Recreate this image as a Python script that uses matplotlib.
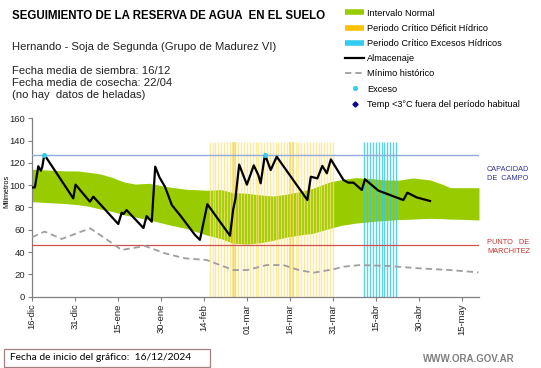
import numpy as np
import matplotlib
matplotlib.use("Agg")
import matplotlib.pyplot as plt
from matplotlib.lines import Line2D
from matplotlib.patches import Rectangle

plt.rcParams['font.family'] = ['Liberation Sans', 'DejaVu Sans']

# ---- data (days since 16-dic) ----
band_days = [0, 6, 12, 16, 20, 24, 28, 32, 36, 41, 47, 54, 61, 66, 70, 75, 80, 84, 89,
             94, 98, 104, 108, 113, 118, 123, 128, 133, 139, 143, 146, 150, 156]
band_upper = [114.3, 113.5, 112.8, 112.8, 111.5, 110, 107, 103, 101, 101.7, 98.7, 96.3, 95.5, 96,
              93.5, 92.7, 91.2, 90.3, 92, 94.5, 97.2, 103, 105, 106.8, 106, 104.7, 104.5, 106.5,
              104.7, 101, 97.8, 97.8, 97.8]
band_lower = [85.2, 84.3, 83.5, 82.5, 81, 78.5, 76.5, 73.5, 71.5, 68.8, 65, 61, 55.3, 52, 48,
              47.2, 48.5, 50.5, 53.5, 55.5, 56.8, 61.3, 64, 66, 67.3, 68.3, 69.2, 69.6, 70.3,
              70, 69.6, 69.4, 68.8]

alm_days = [0, 1, 2.2, 3.1, 3.6, 4.3, 14.4, 15.2, 20.2, 21.4, 30.1, 31.3, 31.9, 33, 38.9, 40,
            41.8, 43, 44.5, 46.4, 48.8, 52, 56.9, 58.6, 61.2, 69.1, 70.2, 71, 72.3, 75, 77.4,
            79, 79.8, 81.3, 83.3, 85.4, 96.1, 97.3, 99.6, 101.3, 102.9, 104.3, 108.7, 110.4,
            112.2, 115.1, 116.2, 120.9, 129.6, 131, 134.2, 138.9]
alm_vals = [98, 98, 117, 113, 116.6, 127.4, 88.2, 100.5, 85.2, 89.7, 65.2, 75.3, 74.1, 77.7, 61.6,
            72.3, 67.3, 116.6, 107, 98.7, 82.2, 72, 55.3, 51, 83, 54.7, 78, 88, 118.5, 100.5,
            117.8, 109, 101.7, 127.5, 113.6, 125.6, 86.7, 107.6, 106.1, 117.3, 110.7, 123.2,
            104.7, 102.3, 102.3, 95.7, 105.3, 95.1, 86.7, 93.3, 89.1, 85.8]

min_days = [0, 4.4, 10.4, 15, 20.3, 25.5, 31.3, 39.4, 46.4, 53.4, 61, 66, 70.3, 75, 81.9, 87.7,
            93, 98.2, 105, 108.7, 114.5, 124.9, 135.4, 145.9, 155.8]
min_vals = [53.3, 58.4, 51.8, 56.3, 61.3, 52.4, 41.9, 45.5, 38.9, 34.4, 32.9, 28, 23.9, 23.9, 28.4,
            28.4, 24, 21.5, 24.5, 26.9, 28.4, 27.5, 25.4, 23.9, 21.8]

exceso_days = [4.3, 81.3]
exceso_vals = [127.4, 127.5]

capacidad_campo = 127.4
punto_marchitez = 46.7
critico_top = 138.5
deficit_start, deficit_end = 62, 105
deficit_strong = [70, 71, 90, 91]
exceso_start, exceso_end = 116, 127

tick_days = [0, 15, 30, 45, 60, 75, 90, 105, 120, 135, 150]
tick_labels = ['16-dic', '31-dic', '15-ene', '30-ene', '14-feb', '01-mar', '16-mar',
               '31-mar', '15-abr', '30-abr', '15-may']

# ---- figure ----
W, H = 541, 368
fig = plt.figure(figsize=(W / 100, H / 100), dpi=100)
ax = fig.add_axes([32 / W, 71.3 / H, 447 / W, 178.4 / H])

green = '#99CC00'
ax.fill_between(band_days, band_lower, band_upper, color=green, lw=0, zorder=1)

# critical periods drawn as daily stripes
ax.vlines(np.arange(deficit_start, deficit_end + 1), 0, critico_top,
          color='#FFE27A', lw=1.0, alpha=0.75, zorder=2)
ax.vlines(deficit_strong, 0, critico_top, color='#F5CC30', lw=1.1, alpha=0.6, zorder=2)
ax.vlines(np.arange(exceso_start, exceso_end + 1), 0, critico_top,
          color='#33C8E8', lw=1.0, alpha=0.8, zorder=2)

ax.axhline(capacidad_campo, color='#8FAADC', lw=1.0, zorder=3)
ax.axhline(punto_marchitez, color='#D05050', lw=0.9, zorder=3)

ax.plot(min_days, min_vals, color='#9E9E9E', lw=1.3, dashes=(3.5, 2.2), zorder=4)
ax.plot(alm_days, alm_vals, color='black', lw=1.6, zorder=5)
ax.plot(exceso_days, exceso_vals, 'o', color='#33CCEE', ms=2.6, zorder=6)

ax.set_xlim(0, 156)
ax.set_ylim(0, 160)
ax.set_yticks(range(0, 161, 20))
ax.set_xticks(tick_days)
ax.set_xticklabels(tick_labels, rotation=90)
ax.tick_params(axis='both', labelsize=6.8, length=3, width=0.8, color='#808080',
               labelcolor='#222222', pad=2)
for s in ['top', 'right']:
    ax.spines[s].set_visible(False)
for s in ['left', 'bottom']:
    ax.spines[s].set_color('#808080')
    ax.spines[s].set_linewidth(0.9)
fig.text(7 / W, 1 - 191 / H, 'Milimetros', fontsize=5.2, rotation=90,
         ha='center', va='center')

# ---- texts ----
fig.text(12 / W, 1 - 19.3 / H, 'SEGUIMIENTO DE LA RESERVA DE AGUA  EN EL SUELO',
         fontsize=8.3, fontweight='bold', va='baseline')
fig.text(12 / W, 1 - 50 / H, 'Hernando - Soja de Segunda (Grupo de Madurez VI)',
         fontsize=8.1, va='baseline', color='#222222')
fig.text(12 / W, 1 - 74 / H, 'Fecha media de siembra: 16/12', fontsize=8.1, va='baseline',
         color='#222222')
fig.text(12 / W, 1 - 86.5 / H, 'Fecha media de cosecha: 22/04', fontsize=8.1, va='baseline',
         color='#222222')
fig.text(12 / W, 1 - 98.5 / H, '(no hay  datos de heladas)', fontsize=8.1, va='baseline',
         color='#222222')

fig.text(487 / W, 1 - 166 / H, 'CAPACIDAD\nDE  CAMPO', fontsize=5.3, color='#3333A0',
         va='top', linespacing=1.35)
fig.text(487 / W, 1 - 239 / H, 'PUNTO   DE\nMARCHITEZ', fontsize=5.3, color='#D03030',
         va='top', linespacing=1.35)

fig.patches.append(Rectangle((3.5 / W, 1 - 366.5 / H), 206.5 / W, 18 / H,
                             transform=fig.transFigure, fc='white', ec='#A08080', lw=0.9))
fig.text(10 / W, 1 - 357.5 / H, 'Fecha de inicio del gráfico:  16/12/2024', fontsize=7.4,
         family=['Lato', 'DejaVu Sans'], va='center')
fig.text(515 / W, 1 - 359 / H, 'WWW.ORA.GOV.AR', fontsize=7, color='#808080',
         fontweight='bold', ha='right', va='center')

# ---- legend ----
handles = [
    Line2D([], [], color=green, lw=4, solid_capstyle='butt'),
    Line2D([], [], color='#FFC000', lw=4, solid_capstyle='butt'),
    Line2D([], [], color='#33CCEE', lw=4, solid_capstyle='butt'),
    Line2D([], [], color='black', lw=1.6),
    Line2D([], [], color='#9E9E9E', lw=1.3, dashes=(3.5, 2.2)),
    Line2D([], [], ls='none', marker='o', color='#33CCEE', ms=2.6),
    Line2D([], [], ls='none', marker='D', color='#0A0A90', ms=2.6),
]
labels = ['Intervalo Normal', 'Periodo Crítico Déficit Hídrico',
          'Periodo Crítico Excesos Hídricos', 'Almacenaje', 'Mínimo histórico',
          'Exceso', 'Temp <3°C fuera del período habitual']
fig.legend(handles, labels, loc='upper left', bbox_to_anchor=(345 / W, 1 - 8.5 / H),
           frameon=False, fontsize=6.6, handlelength=2.1, handletextpad=0.35,
           labelspacing=0.68, borderpad=0, borderaxespad=0)

fig.savefig('out.png', dpi=100)
